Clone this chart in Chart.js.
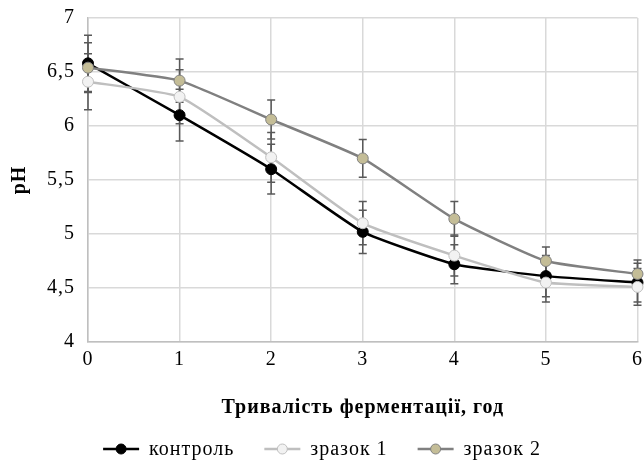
<!DOCTYPE html>
<html>
<head>
<meta charset="utf-8">
<script src="https://cdn.jsdelivr.net/npm/chart.js@4/dist/chart.umd.min.js"></script>
<style>
  html, body { margin: 0; padding: 0; background: #fff; }
  #wrap { width: 644px; height: 468px; }
</style>
</head>
<body>
<div id="wrap"><canvas id="c" width="644" height="468"></canvas></div>
<script>
// Fermentation time, hours
const hours = ['0', '1', '2', '3', '4', '5', '6'];
const seriesNames = ['контроль', 'зразок 1', 'зразок 2'];

// pH values and standard deviations
const controlPH  = [6.58, 6.10, 5.60, 5.02, 4.72, 4.61, 4.55];
const controlErr = [0.26, 0.24, 0.23, 0.20, 0.18, 0.19, 0.18];
const sample1PH  = [6.41, 6.27, 5.71, 5.10, 4.80, 4.55, 4.51];
const sample1Err = [0.26, 0.25, 0.23, 0.20, 0.19, 0.18, 0.17];
const sample2PH  = [6.54, 6.42, 6.06, 5.70, 5.14, 4.75, 4.63];
const sample2Err = [0.23, 0.20, 0.18, 0.175, 0.16, 0.13, 0.13];

const yTicks = [4, 4.5, 5, 5.5, 6, 6.5, 7];

const FONT = '"Liberation Serif", "Times New Roman", serif';
const SPACING = '1px';

const styles = [
  { line: '#000000', fill: '#000000', border: '#000000' },
  { line: '#bfbfbf', fill: '#f2f2f2', border: '#bfbfbf' },
  { line: '#808080', fill: '#c4bd97', border: '#808080' }
];

// Slightly wider text spacing for all canvas text
const textSpacing = {
  id: 'textSpacing',
  beforeUpdate(chart) { chart.ctx.letterSpacing = SPACING; },
  beforeDraw(chart) { chart.ctx.letterSpacing = SPACING; }
};

// Vertical error bars with caps, drawn beneath the lines and markers
const errorBars = {
  id: 'errorBars',
  beforeDatasetsDraw(chart) {
    const ctx = chart.ctx;
    const ys = chart.scales.y;
    ctx.save();
    ctx.strokeStyle = '#595959';
    ctx.lineWidth = 1.5;
    chart.data.datasets.forEach((ds, di) => {
      const meta = chart.getDatasetMeta(di);
      ds.values.forEach((v, i) => {
        const e = ds.errors[i];
        const x = meta.data[i].x;
        const yTop = ys.getPixelForValue(v + e);
        const yBot = ys.getPixelForValue(v - e);
        ctx.beginPath();
        ctx.moveTo(x, yTop); ctx.lineTo(x, yBot);
        ctx.moveTo(x - 4, yTop); ctx.lineTo(x + 4, yTop);
        ctx.moveTo(x - 4, yBot); ctx.lineTo(x + 4, yBot);
        ctx.stroke();
      });
    });
    ctx.restore();
  }
};

// Legend row under the axis title: line sample with marker, then the name
const lineLegend = {
  id: 'lineLegend',
  afterDraw(chart) {
    const ctx = chart.ctx;
    const symW = 36, gapText = 10, gapItem = 30;
    ctx.save();
    ctx.letterSpacing = SPACING;
    ctx.font = '20px ' + FONT;
    ctx.textBaseline = 'middle';
    ctx.textAlign = 'left';
    const items = chart.data.datasets.map((ds, i) => ({
      text: ds.label, s: styles[i], w: symW + gapText + ctx.measureText(ds.label).width
    }));
    const total = items.reduce((a, it) => a + it.w, 0) + gapItem * (items.length - 1);
    let x = chart.width / 2 - total / 2;
    const y = 449;
    items.forEach(it => {
      ctx.strokeStyle = it.s.line; ctx.lineWidth = 2.5;
      ctx.beginPath(); ctx.moveTo(x, y); ctx.lineTo(x + symW, y); ctx.stroke();
      ctx.fillStyle = it.s.fill; ctx.strokeStyle = it.s.border; ctx.lineWidth = 1;
      ctx.beginPath(); ctx.arc(x + symW / 2, y, 5, 0, Math.PI * 2); ctx.fill(); ctx.stroke();
      ctx.fillStyle = '#000';
      ctx.fillText(it.text, x + symW + gapText, y + 1);
      x += it.w + gapItem;
    });
    ctx.restore();
  }
};

function makeDataset(idx, values, errors, order) {
  const s = styles[idx];
  return {
    label: seriesNames[idx],
    data: values,
    values: values,
    errors: errors,
    borderColor: s.line,
    backgroundColor: s.fill,
    pointBackgroundColor: s.fill,
    pointBorderColor: s.border,
    pointBorderWidth: 1,
    pointRadius: 5.5,
    pointHoverRadius: 5.5,
    borderWidth: 2.5,
    tension: 0.15,
    order: order
  };
}

new Chart(document.getElementById('c'), {
  type: 'line',
  data: {
    labels: hours,
    datasets: [
      makeDataset(0, controlPH, controlErr, 3),
      makeDataset(1, sample1PH, sample1Err, 2),
      makeDataset(2, sample2PH, sample2Err, 1)
    ]
  },
  plugins: [textSpacing, errorBars, lineLegend],
  options: {
    responsive: false,
    animation: false,
    events: [],
    layout: { padding: { left: 4, right: 5, top: 18, bottom: 48 } },
    plugins: {
      tooltip: { enabled: false },
      legend: { display: false }
    },
    scales: {
      x: {
        type: 'category',
        offset: false,
        afterFit(scale) { scale.paddingLeft = 0; scale.paddingRight = 0; },
        grid: { color: '#d9d9d9', lineWidth: 1.5, drawTicks: false },
        border: { color: '#bfbfbf', width: 1.5 },
        ticks: { color: '#000', font: { family: FONT, size: 20 }, padding: 6, maxRotation: 0 },
        title: {
          display: true,
          text: 'Тривалість ферментації, год',
          color: '#000',
          font: { family: FONT, size: 20, weight: 'bold' },
          padding: { top: 18, bottom: 0 }
        }
      },
      y: {
        min: 4,
        max: 7,
        afterBuildTicks(axis) { axis.ticks = yTicks.map(v => ({ value: v })); },
        afterFit(scale) { scale.paddingTop = 0; scale.paddingBottom = 0; },
        grid: { color: '#d9d9d9', lineWidth: 1.5, drawTicks: false },
        border: { color: '#bfbfbf', width: 1.5 },
        ticks: {
          color: '#000',
          font: { family: FONT, size: 20 },
          padding: 13,
          callback: v => String(v).replace('.', ',')
        },
        title: {
          display: true,
          text: 'pH',
          color: '#000',
          font: { family: FONT, size: 20, weight: 'bold' },
          padding: { top: 4, bottom: 2 }
        }
      }
    }
  }
});
</script>
</body>
</html>
